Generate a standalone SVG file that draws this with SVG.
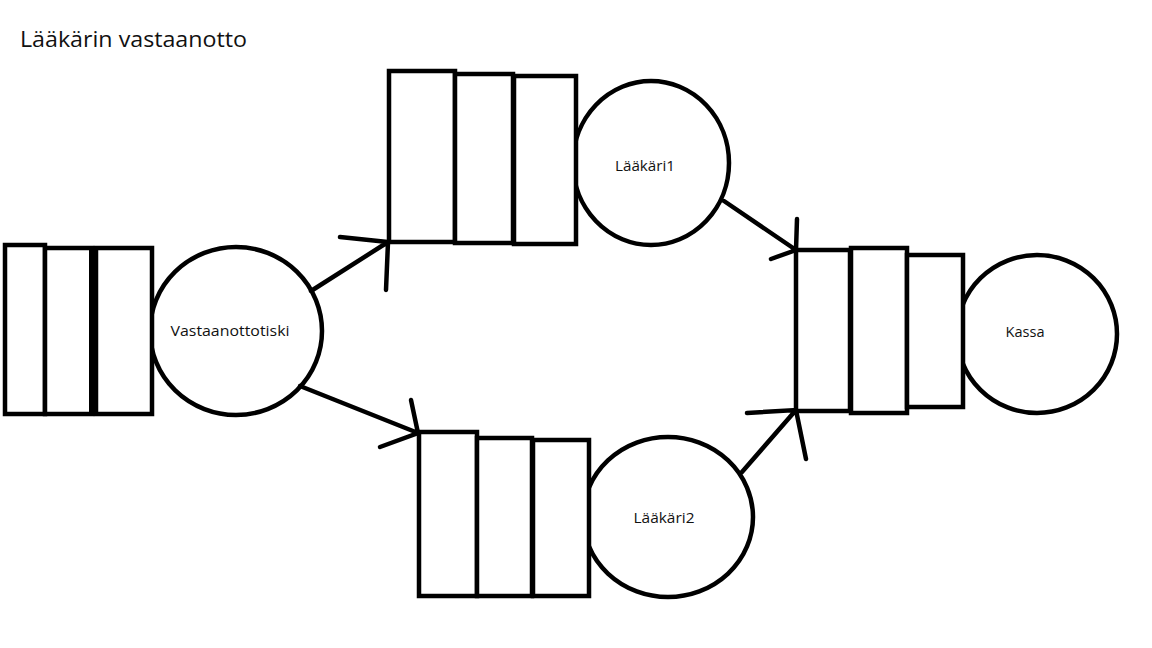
<svg xmlns="http://www.w3.org/2000/svg" width="1152" height="648" viewBox="0 0 1152 648">
<style>
.s{fill:#fff;stroke:#000;stroke-width:4.5}
.c{fill:none;stroke:#000;stroke-width:4.5;stroke-linecap:round}
.t{font-family:"Open Sans","Noto Sans","Liberation Sans",sans-serif;fill:#111;text-anchor:middle}
.lbl{font-size:14px}
</style>
<rect width="1152" height="648" fill="#fff"/>
<text x="20" y="47" font-family="Open Sans, Noto Sans, Liberation Sans, sans-serif" font-size="22" fill="#111" textLength="227" lengthAdjust="spacingAndGlyphs">Lääkärin vastaanotto</text>

<g id="vastaanottotiski">
<ellipse class="s" cx="236" cy="331" rx="86" ry="84"/>
<rect class="s" x="5" y="245" width="40" height="169"/>
<rect class="s" x="45" y="248" width="47" height="166"/>
<rect class="s" x="96" y="248" width="56" height="166"/>
<rect x="89" y="249" width="8" height="164" fill="#000"/>
<text class="t lbl" x="230" y="336" textLength="119" lengthAdjust="spacingAndGlyphs">Vastaanottotiski</text>
</g>

<g id="laakari1">
<ellipse class="s" cx="651" cy="163" rx="78" ry="82"/>
<rect class="s" x="389" y="71" width="66" height="171"/>
<rect class="s" x="455" y="74" width="58" height="169"/>
<rect class="s" x="514" y="76" width="62" height="168"/>
<text class="t lbl" x="645" y="171" textLength="60" lengthAdjust="spacingAndGlyphs">Lääkäri1</text>
</g>

<g id="laakari2">
<ellipse class="s" cx="668" cy="517" rx="85" ry="80"/>
<rect class="s" x="419" y="432" width="58" height="164"/>
<rect class="s" x="477" y="438" width="55" height="158"/>
<rect class="s" x="533" y="440" width="56" height="156"/>
<text class="t lbl" x="664" y="523" textLength="61" lengthAdjust="spacingAndGlyphs">Lääkäri2</text>
</g>

<g id="kassa">
<ellipse class="s" cx="1037" cy="334" rx="80" ry="79"/>
<rect class="s" x="796" y="250" width="54" height="161"/>
<rect class="s" x="851" y="248" width="56" height="165"/>
<rect class="s" x="907" y="255" width="56" height="152"/>
<text class="t lbl" x="1025" y="337" textLength="39" lengthAdjust="spacingAndGlyphs">Kassa</text>
</g>

<g id="connectors">
<path class="c" d="M311 291 L388 242 M340 237 L388 242 L386 290"/>
<path class="c" d="M300 386 L418 433 M411 400 L418 433 L380 447"/>
<path class="c" d="M724 201 L796 250 M797 219 L796 250 L771 259"/>
<path class="c" d="M742 472 L796 410 M747 413 L796 410 L806 459"/>
</g>
</svg>
